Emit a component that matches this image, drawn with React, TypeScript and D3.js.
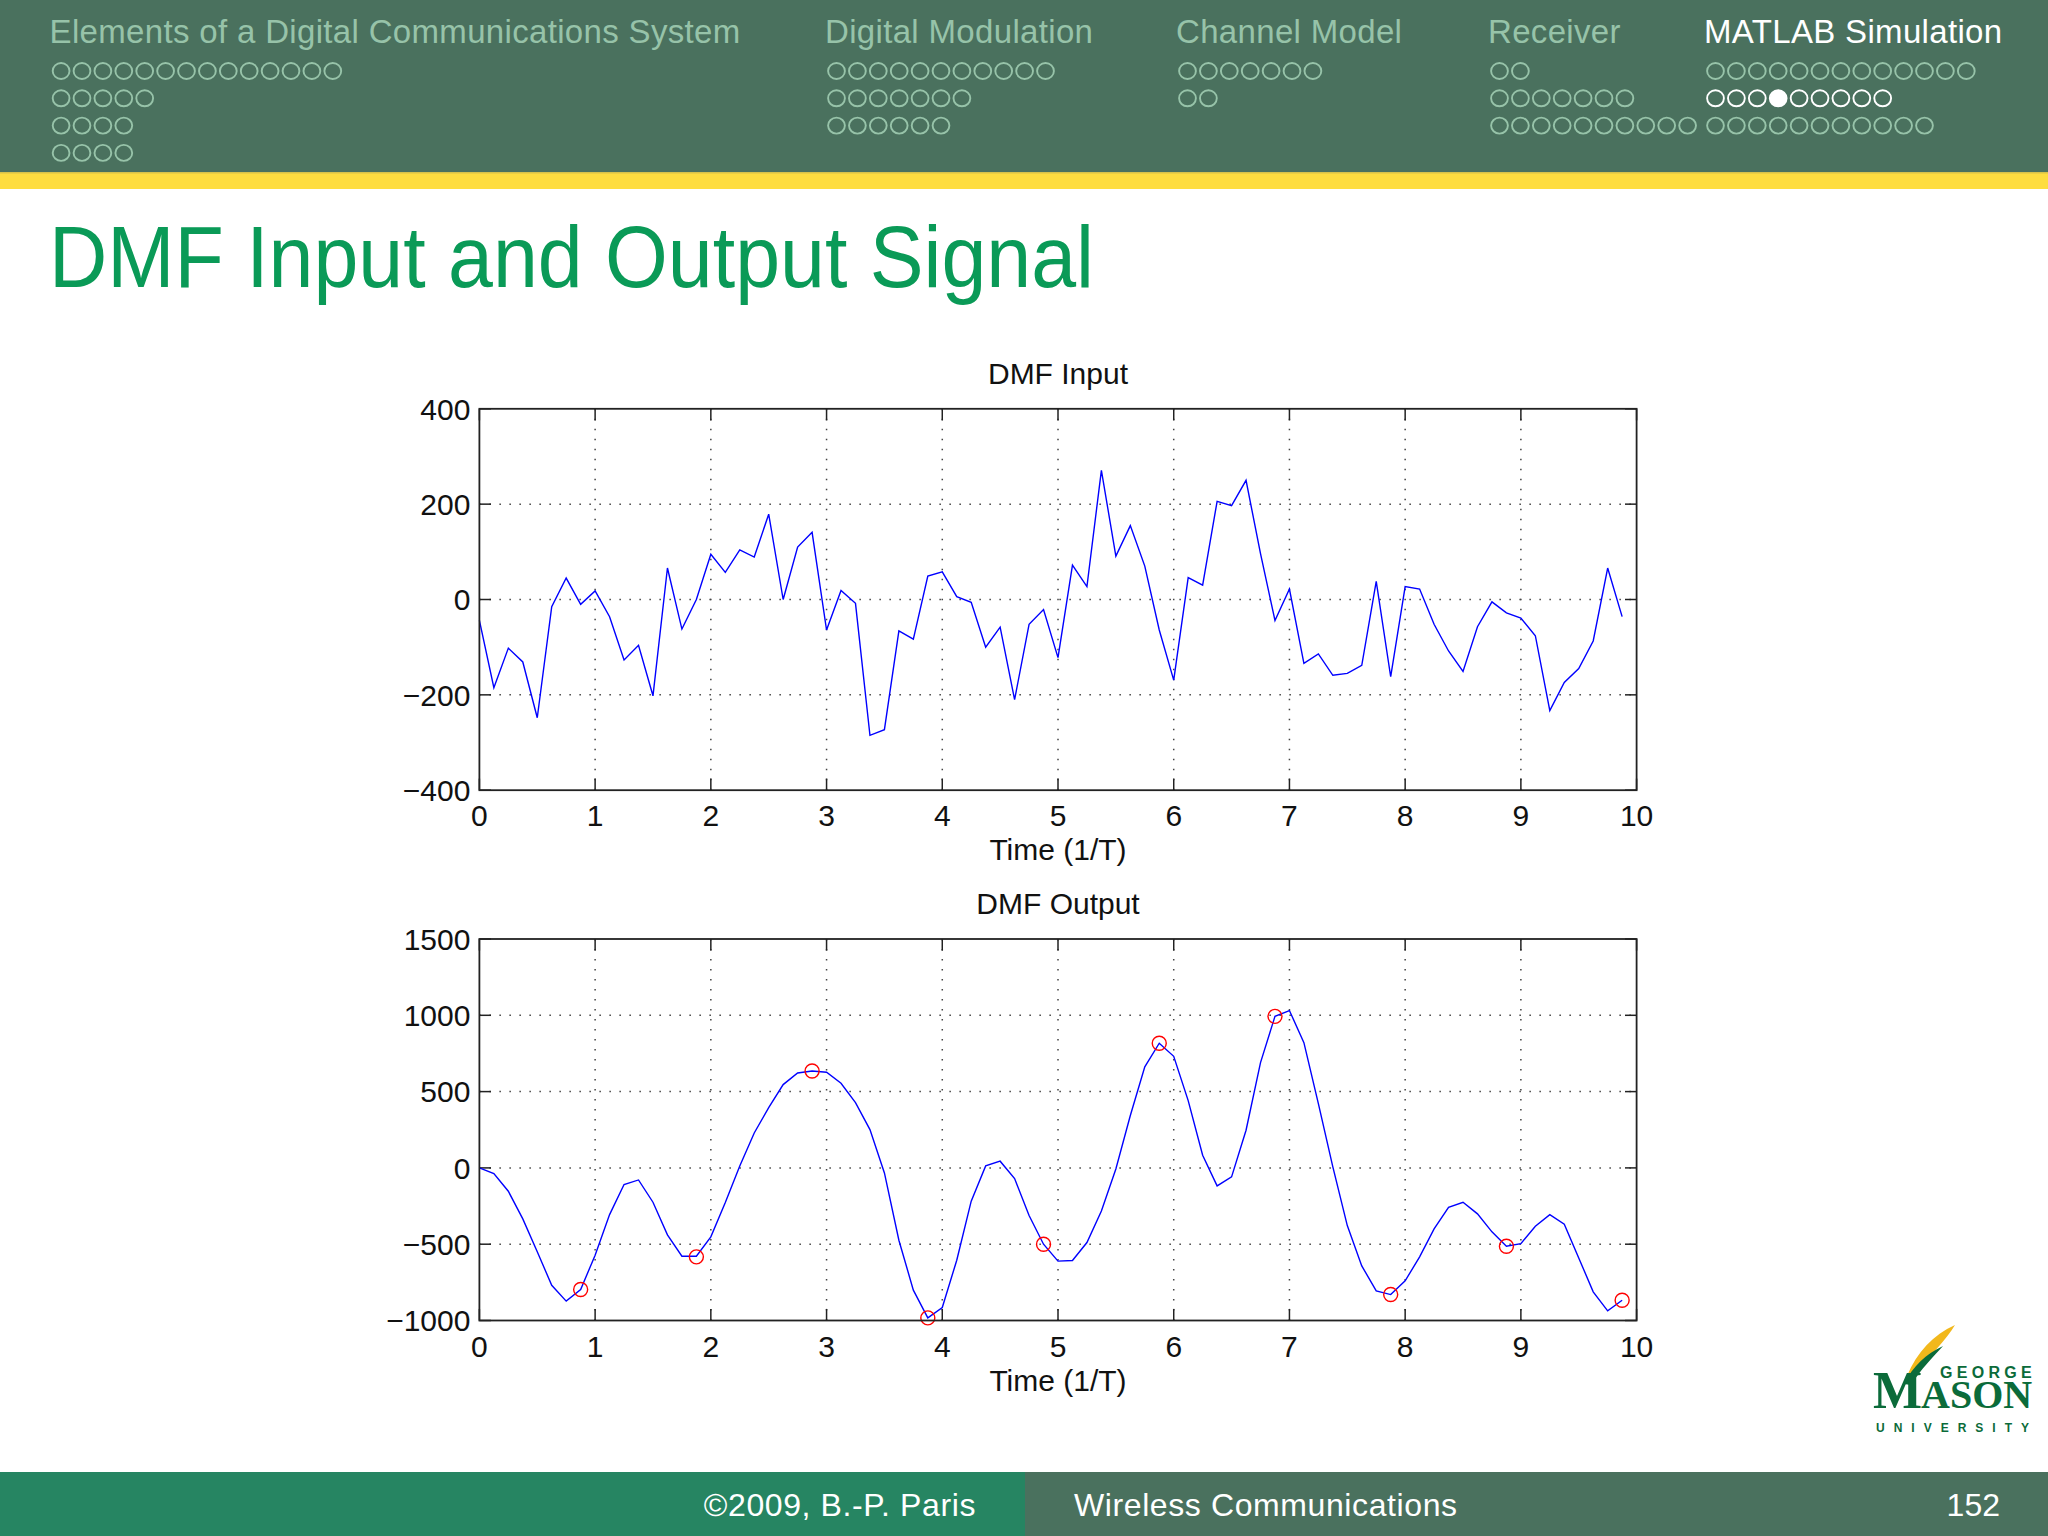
import React from 'react';
import * as d3 from 'd3';

// slide navigation
const navTitles = [
  'Elements of a Digital Communications System',
  'Digital Modulation',
  'Channel Model',
  'Receiver',
  'MATLAB Simulation',
];
const navDots = [[14, 5, 4, 4], [11, 7, 6], [7, 2], [2, 7, 10], [13, 9, 11]];
const activeSection = 4;
const activeRow = 1;
const activeDot = 3;

const slideTitle = 'DMF Input and Output Signal';
const footerLeft = '\u00a92009, B.-P. Paris';
const footerMid = 'Wireless Communications';
const footerPage = '152';

// chart data
const xTicks = [0, 1, 2, 3, 4, 5, 6, 7, 8, 9, 10];
const inputTicks = [400, 200, 0, -200, -400];
const outputTicks = [1500, 1000, 500, 0, -500, -1000];
const samplePeriod = 0.125; // 8 samples per symbol

const dmfInput = [
  -44, -185, -102, -131, -248, -15, 45, -10, 18, -36,
  -127, -96, -202, 66, -62, 0, 95, 57, 104, 89,
  179, 0, 110, 141, -64, 19, -8, -285, -273, -66,
  -83, 49, 58, 6, -6, -100, -58, -210, -52, -21,
  -122, 72, 27, 271, 91, 155, 70, -64, -169, 46,
  30, 206, 197, 250, 96, -44, 22, -134, -114, -159,
  -155, -138, 38, -162, 27, 22, -52, -108, -151, -57,
  -5, -28, -39, -76, -233, -174, -145, -87, 66, -36,
];

const dmfOutput = [
  0, -37, -153, -334, -550, -769, -873, -797, -572, -306,
  -109, -79, -225, -439, -579, -579, -452, -227, 13, 229,
  395, 546, 622, 635, 627, 555, 428, 251, -33, -474,
  -801, -983, -915, -605, -218, 13, 44, -70, -312, -500,
  -611, -607, -489, -282, -7, 343, 662, 817, 731, 441,
  83, -118, -59, 247, 690, 993, 1031, 821, 421, 7,
  -378, -642, -806, -830, -740, -583, -400, -258, -225, -301,
  -419, -513, -496, -382, -306, -369, -590, -812, -937, -867,
];

const sampleTimes = [0.875, 1.875, 2.875, 3.875, 4.875, 5.875, 6.875, 7.875, 8.875, 9.875];
const sampleValues = [-797, -583, 635, -983, -500, 817, 993, -830, -513, -867];

const FONT = '"Liberation Sans", Arial, Helvetica, sans-serif';
const SERIF = '"Liberation Serif", "Times New Roman", serif';
const PLOT_L = 479.4;
const PLOT_R = 1636.6;
const TICK = 11.6;

const fmt = (v: number) => (v < 0 ? '\u2212' + Math.abs(v) : String(v));

interface PanelProps {
  top: number;
  bottom: number;
  ticks: number[];
  values: number[];
  title: string;
  markers?: { t: number[]; v: number[] };
}

const Panel: React.FC<PanelProps> = ({ top, bottom, ticks, values, title, markers }) => {
  const x = d3.scaleLinear().domain([0, 10]).range([PLOT_L, PLOT_R]);
  const y = d3.scaleLinear().domain(d3.extent(ticks) as [number, number]).range([bottom, top]);
  const line = d3
    .line<number>()
    .x((_, i) => x(i * samplePeriod))
    .y((d) => y(d));
  const [y0, y1] = y.domain();
  const cx = (PLOT_L + PLOT_R) / 2;

  return (
    <g>
      {/* grid */}
      <g stroke="#444" strokeWidth={1.5} strokeDasharray="1.5 8.5">
        {xTicks
          .filter((t) => t > 0 && t < 10)
          .map((t) => (
            <line key={'gx' + t} x1={x(t)} x2={x(t)} y1={top} y2={bottom} />
          ))}
        {ticks
          .filter((t) => t > y0 && t < y1)
          .map((t) => (
            <line key={'gy' + t} x1={PLOT_L} x2={PLOT_R} y1={y(t)} y2={y(t)} />
          ))}
      </g>
      {/* ticks on all four sides */}
      <g stroke="#222" strokeWidth={1.5}>
        {xTicks.map((t) => (
          <g key={'tx' + t}>
            <line x1={x(t)} x2={x(t)} y1={bottom} y2={bottom - TICK} />
            <line x1={x(t)} x2={x(t)} y1={top} y2={top + TICK} />
          </g>
        ))}
        {ticks.map((t) => (
          <g key={'ty' + t}>
            <line x1={PLOT_L} x2={PLOT_L + TICK} y1={y(t)} y2={y(t)} />
            <line x1={PLOT_R} x2={PLOT_R - TICK} y1={y(t)} y2={y(t)} />
          </g>
        ))}
      </g>
      <path d={line(values) || ''} fill="none" stroke="#0000ff" strokeWidth={1.4} />
      {markers &&
        markers.t.map((t, i) => (
          <circle key={'m' + i} cx={x(t)} cy={y(markers.v[i])} r={7} fill="none" stroke="#ff0000" strokeWidth={1.4} />
        ))}
      <rect x={PLOT_L} y={top} width={PLOT_R - PLOT_L} height={bottom - top} fill="none" stroke="#222" strokeWidth={1.8} />
      {/* labels */}
      <g fontFamily={FONT} fontSize={30} fill="#111">
        {ticks.map((t) => (
          <text key={'ly' + t} x={PLOT_L - 9} y={y(t)} dy="0.36em" textAnchor="end">
            {fmt(t)}
          </text>
        ))}
        {xTicks.map((t) => (
          <text key={'lx' + t} x={x(t)} y={bottom + 36} textAnchor="middle">
            {fmt(t)}
          </text>
        ))}
        <text x={cx} y={bottom + 70} textAnchor="middle">Time (1/T)</text>
        <text x={cx} y={top - 25} textAnchor="middle">{title}</text>
      </g>
    </g>
  );
};

const navX = [49.6, 825, 1176, 1488, 1704];

const Header: React.FC = () => (
  <g>
    <rect x={0} y={0} width={2048} height={172} fill="#4a715e" />
    <rect x={0} y={172} width={2048} height={17} fill="#fedd3f" />
    <rect x={0} y={172} width={2048} height={1.5} fill="#d8c24a" />
    {navTitles.map((title, s) => {
      const active = s === activeSection;
      const col = active ? '#ffffff' : '#97c3a9';
      return (
        <g key={title}>
          <text x={navX[s]} y={43} fontFamily={FONT} fontSize={33} letterSpacing={0.33} fill={col}>
            {title}
          </text>
          {navDots[s].map((n, r) =>
            d3.range(n).map((k) => {
              const on = active && r === activeRow;
              const filled = on && k === activeDot;
              return (
                <ellipse
                  key={r + '-' + k}
                  cx={navX[s] + 11.5 + k * 20.9}
                  cy={71 + r * 27.3}
                  rx={8.4}
                  ry={8}
                  fill={filled ? '#ffffff' : 'none'}
                  stroke={on ? '#ffffff' : '#97c3a9'}
                  strokeWidth={1.9}
                />
              );
            })
          )}
        </g>
      );
    })}
  </g>
);

const Footer: React.FC = () => (
  <g fontFamily={FONT} fontSize={32} fill="#ffffff">
    <rect x={0} y={1472} width={1025} height={64} fill="#268562" />
    <rect x={1025} y={1472} width={1023} height={64} fill="#4a715e" />
    <text x={976} y={1516} textAnchor="end" letterSpacing={0.6}>{footerLeft}</text>
    <text x={1074} y={1516} letterSpacing={0.6}>{footerMid}</text>
    <text x={2000} y={1516} textAnchor="end">{footerPage}</text>
  </g>
);

const Logo: React.FC = () => (
  <g fill="#0b6b3a">
    <path d="M1907,1376 C1917,1352 1933,1335 1955,1325 C1947,1339 1931,1354 1914,1376 Z" fill="#f2b81c" />
    <path d="M1904,1384 C1913,1366 1926,1354 1943,1346 C1933,1357 1921,1369 1911,1385 Z" />
    <text fontWeight="bold">
      <tspan x={1940} y={1378} fontFamily={FONT} fontSize={16} letterSpacing={4.3}>GEORGE</tspan>
      <tspan x={1873} y={1408} fontFamily={SERIF} fontSize={52}>M</tspan>
      <tspan x={1921} y={1408} fontFamily={SERIF} fontSize={40}>ASON</tspan>
      <tspan x={1876} y={1432} fontFamily={FONT} fontSize={12} letterSpacing={9}>UNIVERSITY</tspan>
    </text>
  </g>
);

export default function App() {
  return (
    <svg
      width={2048}
      height={1536}
      viewBox="0 0 2048 1536"
      style={{ position: 'absolute', left: 0, top: 0, background: '#ffffff' }}
    >
      <rect x={0} y={0} width={2048} height={1536} fill="#ffffff" />
      <Header />
      <text x={49} y={287} fontFamily={FONT} fontSize={88} fill="#0a9a57" textLength={1045} lengthAdjust="spacingAndGlyphs">
        {slideTitle}
      </text>
      <Panel top={408.8} bottom={790.2} ticks={inputTicks} values={dmfInput} title="DMF Input" />
      <Panel
        top={939}
        bottom={1320.5}
        ticks={outputTicks}
        values={dmfOutput}
        title="DMF Output"
        markers={{ t: sampleTimes, v: sampleValues }}
      />
      <Logo />
      <Footer />
    </svg>
  );
}
